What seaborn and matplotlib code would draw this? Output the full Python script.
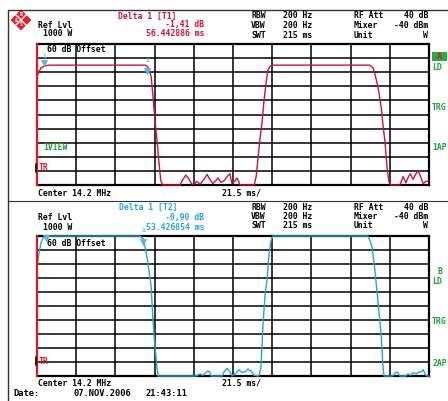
import matplotlib
matplotlib.use("Agg")
import matplotlib.pyplot as plt
from matplotlib.lines import Line2D
from matplotlib.patches import Polygon, Rectangle
import numpy as np
import pandas as pd
import seaborn as sns

# ---------------- data ----------------
# Trace 1 (top screen): time in ms, level in W (Ref Lvl 1000 W, linear 100 W/div)
t1_time = [0, 1.1, 2.2, 4.3, 6.7, 59.3, 60.4, 61.5, 62.6, 63.6, 64.7, 65.8, 66.9, 67.9, 69.0,
           78.5, 80.0, 81.7, 83.4, 84.9, 86.6, 87.7, 89.4, 91.6, 93.3, 94.8, 96.5, 98.3, 99.3,
           100.8, 102.6, 104.3, 105.8, 106.9, 108.6, 109.7, 111.4, 119.1, 120.2, 121.3, 122.3,
           123.4, 124.5, 125.6, 126.6, 127.7, 129.4, 182.5, 184.3, 185.3, 187.1, 188.8, 189.8,
           190.9, 192.0, 193.1, 194.1, 199.1, 200.8, 202.3, 203.4, 204.7, 206.2, 207.9, 209.0,
           210.1, 211.8, 213.3, 215.0]
t1_level = [770, 805, 830, 845, 850, 850, 842, 820, 770, 630, 460, 320, 160, 30, 0,
            0, 40, 70, 40, 5, 10, 25, 5, 40, 75, 40, 10, 35, 50,
            20, 30, 60, 80, 10, 30, 50, 0, 0, 60, 200, 330,
            440, 600, 720, 810, 840, 850, 850, 830, 790, 690, 550, 420,
            300, 120, 20, 0, 0, 60, 15, 50, 80, 40, 80, 100,
            70, 10, 25, 30]

# Trace 2 (bottom screen)
t2_time = [0, 1.1, 2.2, 3.2, 4.9, 56.5, 58.1, 59.3, 60.8, 62.6, 63.6, 64.7, 65.8, 66.4,
           87.3, 89.4, 90.9, 92.2, 93.7, 94.4, 95.5, 101.5, 102.6, 104.3, 105.8, 106.9,
           109.2, 110.7, 112.4, 114.2, 115.7, 117.4, 119.1, 121.7, 122.8, 124.1, 125.1,
           126.2, 127.3, 128.4, 129.4, 181.5, 182.5, 183.8, 185.3, 187.1, 188.8, 189.8,
           190.3, 195.2, 196.3, 197.4, 199.1, 202.3, 203.4, 205.1, 206.2, 207.9, 209.0,
           210.7, 211.8, 212.9, 213.9, 215.0]
t2_level = [760, 880, 950, 985, 1000, 1000, 980, 920, 810, 640, 400, 210, 60, 0,
            0, 15, 5, 20, 35, 35, 0, 0, 30, 55, 30, 0,
            20, 45, 25, 30, 50, 35, 5, 0, 60, 400, 580,
            690, 880, 970, 1000, 1000, 970, 920, 760, 520, 280, 60,
            0, 0, 20, 30, 0, 0, 15, 5, 25, 15, 25,
            30, 45, 10, 0, 0]

# marker positions (ms, W)
m1_time = [3.9, 60.3]
m1_level = [865, 805]
m2_time = [4.7, 58.1]
m2_level = [985, 955]

# ---------------- style ----------------
sns.set_style("white")
plt.rcParams["font.family"] = ["DejaVu Sans Mono", "DejaVu Sans"]
plt.rcParams["font.weight"] = "bold"

W, H = 448, 401
fig = plt.figure(figsize=(W / 100, H / 100), dpi=100)
fig.patch.set_facecolor("white")

RED = "#c8143c"
CYAN = "#22a6d8"
MARK = "#58b4e6"
GREEN = "#1f9e3a"
BRIGHTRED = "#e4141e"
FS = 5.9


def px(x, y):
    return x / W, 1 - y / H


def txt(x, y, s, color="black", ha="left", size=FS, **kw):
    fx, fy = px(x, y)
    fig.text(fx, fy, s, color=color, ha=ha, va="center", fontsize=size,
             fontweight="bold", **kw)


def make_panel(top, bottom, times, levels, color):
    l, r = 37, 429
    ax = fig.add_axes([l / W, 1 - bottom / H, (r - l) / W, (bottom - top) / H])
    df = pd.DataFrame({"time_ms": times, "level_W": levels})
    sns.lineplot(data=df, x="time_ms", y="level_W", ax=ax, color=color, lw=1.0,
                 estimator=None, sort=False, zorder=4, clip_on=False)
    ax.set_xlim(0, 215)
    ax.set_ylim(0, 1000)
    ax.set_xticks(np.arange(0, 215.1, 21.5))
    ax.set_yticks(np.arange(0, 1001, 100))
    ax.grid(True, color="black", lw=1.1)
    ax.tick_params(length=0, labelbottom=False, labelleft=False)
    ax.set_xlabel("")
    ax.set_ylabel("")
    for side in ["top", "bottom", "right"]:
        ax.spines[side].set_color("black")
        ax.spines[side].set_linewidth(1.6)
    ax.spines["left"].set_color(BRIGHTRED)
    ax.spines["left"].set_linewidth(1.6)
    ax.spines["left"].set_zorder(5)
    return ax


ax1 = make_panel(44, 185, t1_time, t1_level, RED)
ax2 = make_panel(236, 376, t2_time, t2_level, CYAN)

# markers
sns.scatterplot(x=m1_time, y=m1_level, ax=ax1, marker="v", s=22, color=MARK,
                edgecolor=MARK, zorder=6, clip_on=False, legend=False)
sns.scatterplot(x=m2_time, y=m2_level, ax=ax2, marker="v", s=22, color=MARK,
                edgecolor=MARK, zorder=6, clip_on=False, legend=False)

# outer frame and separator
for (x0, y0, x1, y1, lw) in [(8, 10, 448, 10, 1.0), (8, 10, 8, 401, 1.0), (8, 201, 448, 201, 0.8)]:
    a, b = px(x0, y0)
    c, d = px(x1, y1)
    fig.add_artist(Line2D([a, c], [b, d], color="#333333", lw=lw))

# small black ticks beside TR
for yy in (168, 361):
    a, b = px(36, yy - 4)
    c, d = px(36, yy + 4)
    fig.add_artist(Line2D([a, c], [b, d], color="black", lw=1.2, zorder=10))

# R&S logo
cx, cy, r = 21, 20, 10
diamond = [px(cx, cy - r), px(cx + r, cy), px(cx, cy + r), px(cx - r, cy)]
fig.add_artist(Polygon(diamond, closed=True, facecolor="#e0202a", edgecolor="#e0202a", lw=0.5))
fig.add_artist(Line2D(*zip(px(cx - r / 2, cy - r / 2), px(cx + r / 2, cy + r / 2)), color="white", lw=1.0))
fig.add_artist(Line2D(*zip(px(cx - r / 2, cy + r / 2), px(cx + r / 2, cy - r / 2)), color="white", lw=1.0))
txt(cx, cy - 5, "R", color="white", ha="center", size=3.5)
txt(cx - 5, cy, "&", color="white", ha="center", size=3.5)
txt(cx, cy + 5, "S", color="white", ha="center", size=3.5)

# ---- header top ----
txt(118, 16, "Delta 1 [T1]", color=RED)
txt(38, 25, "Ref Lvl")
txt(204, 25, "-1,41 dB", color=RED, ha="right")
txt(43, 34, "1000 W")
txt(204, 34, "56.442886 ms", color=RED, ha="right")
for y0 in (16, 207):
    txt(251, y0, "RBW"); txt(283, y0, "200 Hz")
    txt(251, y0 + 9.5, "VBW"); txt(283, y0 + 9.5, "200 Hz")
    txt(251, y0 + 19, "SWT"); txt(283, y0 + 19, "215 ms")
    txt(354, y0, "RF Att"); txt(428, y0, "40 dB", ha="right")
    txt(354, y0 + 9.5, "Mixer"); txt(428, y0 + 9.5, "-40 dBm", ha="right")
    txt(354, y0 + 19, "Unit"); txt(428, y0 + 19, "W", ha="right")

txt(47, 50, "60 dB Offset")
txt(43, 148, "1VIEW", color=GREEN)
txt(39, 168, "TR", color=BRIGHTRED)
txt(38, 193, "Center 14.2 MHz")
txt(222, 193, "21.5 ms/")
txt(44, 56, "1", color=MARK, ha="center", size=4.5)
txt(147, 61, "1", color=MARK, ha="center", size=4.5)

# ---- header bottom ----
txt(119, 207, "Delta 1 [T2]", color=CYAN)
txt(38, 217, "Ref Lvl")
txt(204, 217, "-0,90 dB", color=CYAN, ha="right")
txt(43, 227, "1000 W")
txt(204, 227, "53.426854 ms", color=CYAN, ha="right")
txt(143, 230, "1", color=MARK, ha="center", size=4.5)

txt(47, 243, "60 dB Offset")
txt(39, 362, "TR", color=BRIGHTRED)
txt(38, 383, "Center 14.2 MHz")
txt(222, 383, "21.5 ms/")
txt(13, 394, "Date:", size=6.3)
txt(73, 394, "07.NOV.2006", size=6.3)
txt(145, 394, "21:43:11", size=6.3)

# ---- right side labels ----
a, b = px(432, 61)
fig.add_artist(Rectangle((a, b), 15 / W, 9 / H, facecolor="#2aa84a", edgecolor="none"))
txt(439.5, 56.5, "A", color=BRIGHTRED, ha="center")
txt(432, 68, "LD", color=GREEN)
txt(432, 108, "TRG", color=GREEN)
txt(432, 148, "1AP", color=GREEN)
txt(437, 272, "B", color=GREEN)
txt(432, 282, "LD", color=GREEN)
txt(432, 322, "TRG", color=GREEN)
txt(432, 363, "2AP", color=GREEN)

fig.savefig("out.png", dpi=100, facecolor="white")
